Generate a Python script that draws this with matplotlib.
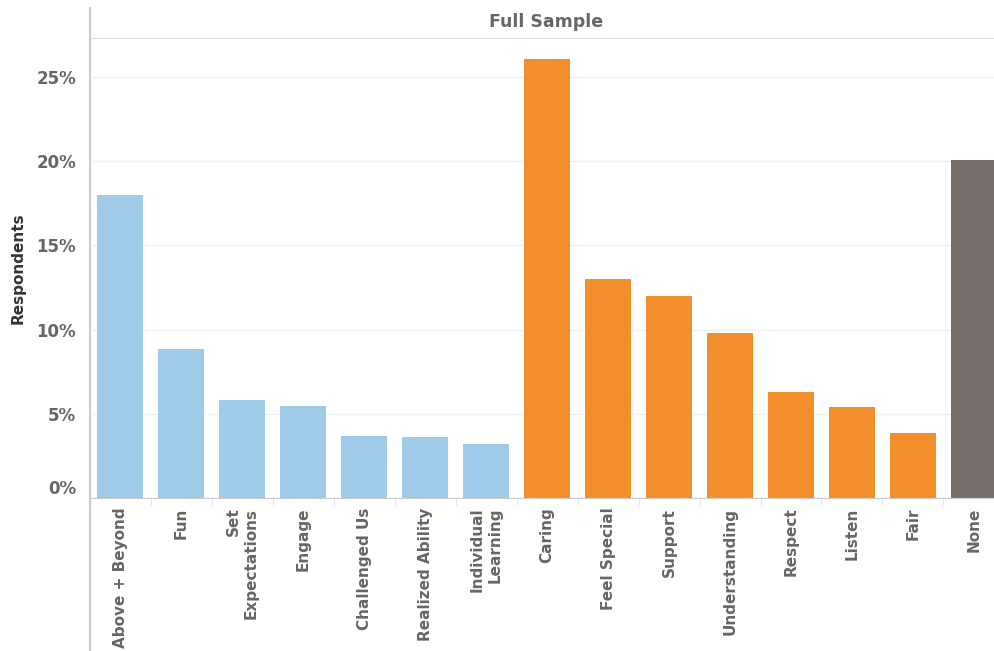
import matplotlib
matplotlib.use('Agg')
from matplotlib import pyplot as plt
from matplotlib.lines import Line2D
import numpy as np

##### Data #####
categories = ['Above + Beyond', 'Fun', 'Set\nExpectations', 'Engage', 'Challenged Us',
              'Realized Ability', 'Individual\nLearning', 'Caring', 'Feel Special', 'Support',
              'Understanding', 'Respect', 'Listen', 'Fair', 'None']
values = [18.0, 8.85, 5.82, 5.46, 3.68, 3.62, 3.2, 26.07, 13.0, 12.0, 9.8, 6.29, 5.4, 3.86, 20.07]
groups = ['blue'] * 7 + ['orange'] * 7 + ['gray']
yticks = [0, 5, 10, 15, 20, 25]
ytick_labels = ['0%', '5%', '10%', '15%', '20%', '25%']

colorMap = {'blue': '#9fcae8', 'orange': '#f28e2b', 'gray': '#79706e'}
textColor = '#666666'

plt.rcParams['font.family'] = ['DejaVu Sans']

W, H = 994, 651
fig = plt.figure(figsize=(W / 100, H / 100), dpi=100)

# plot area in pixels
left, right, top, bottom = 90, 994, 38, 498
ax = fig.add_axes([left / W, 1 - bottom / H, (right - left) / W, (bottom - top) / H])

x = np.arange(len(categories))
ax.bar(x, values, width=0.755, color=[colorMap[g] for g in groups], zorder=2)

ax.set_xlim(-0.5, len(categories) - 0.5 - 0.17)
ax.set_ylim(0, 27.3)

ax.set_yticks(yticks)
ax.set_yticklabels(ytick_labels, fontsize=12, fontweight='bold', color=textColor)
ax.tick_params(axis='y', length=0, pad=10)
ax.get_yticklabels()[0].set_va('bottom')
ax.grid(axis='y', color='#f0f0f0', linewidth=1, zorder=0)

ax.set_xticks(x)
ax.set_xticklabels(categories, rotation=90, fontsize=11, fontweight='bold', color=textColor,
                   va='top', ha='center', multialignment='right')
ax.tick_params(axis='x', length=0, pad=7)
ax.set_xticks(x[:-1] + 0.5, minor=True)
ax.tick_params(axis='x', which='minor', length=5, color='#dddddd')

ax.spines['right'].set_visible(False)
ax.spines['top'].set_color('#dddddd')
ax.spines['bottom'].set_color('#cccccc')
ax.spines['left'].set_visible(False)

ax.set_ylabel('Respondents', fontsize=11, fontweight='bold', color='#333333')
ax.yaxis.set_label_coords(-64 / (right - left), 0.5)

# header and long vertical axis line
fig.text(546 / W, 1 - 22 / H, 'Full Sample', ha='center', va='center',
         fontsize=12.5, fontweight='bold', color=textColor)
fig.add_artist(Line2D([left / W, left / W], [1 - 8 / H, 1 - 650 / H], color='#cccccc',
                      linewidth=1.5, transform=fig.transFigure))

plt.savefig('out.png', dpi=100)
